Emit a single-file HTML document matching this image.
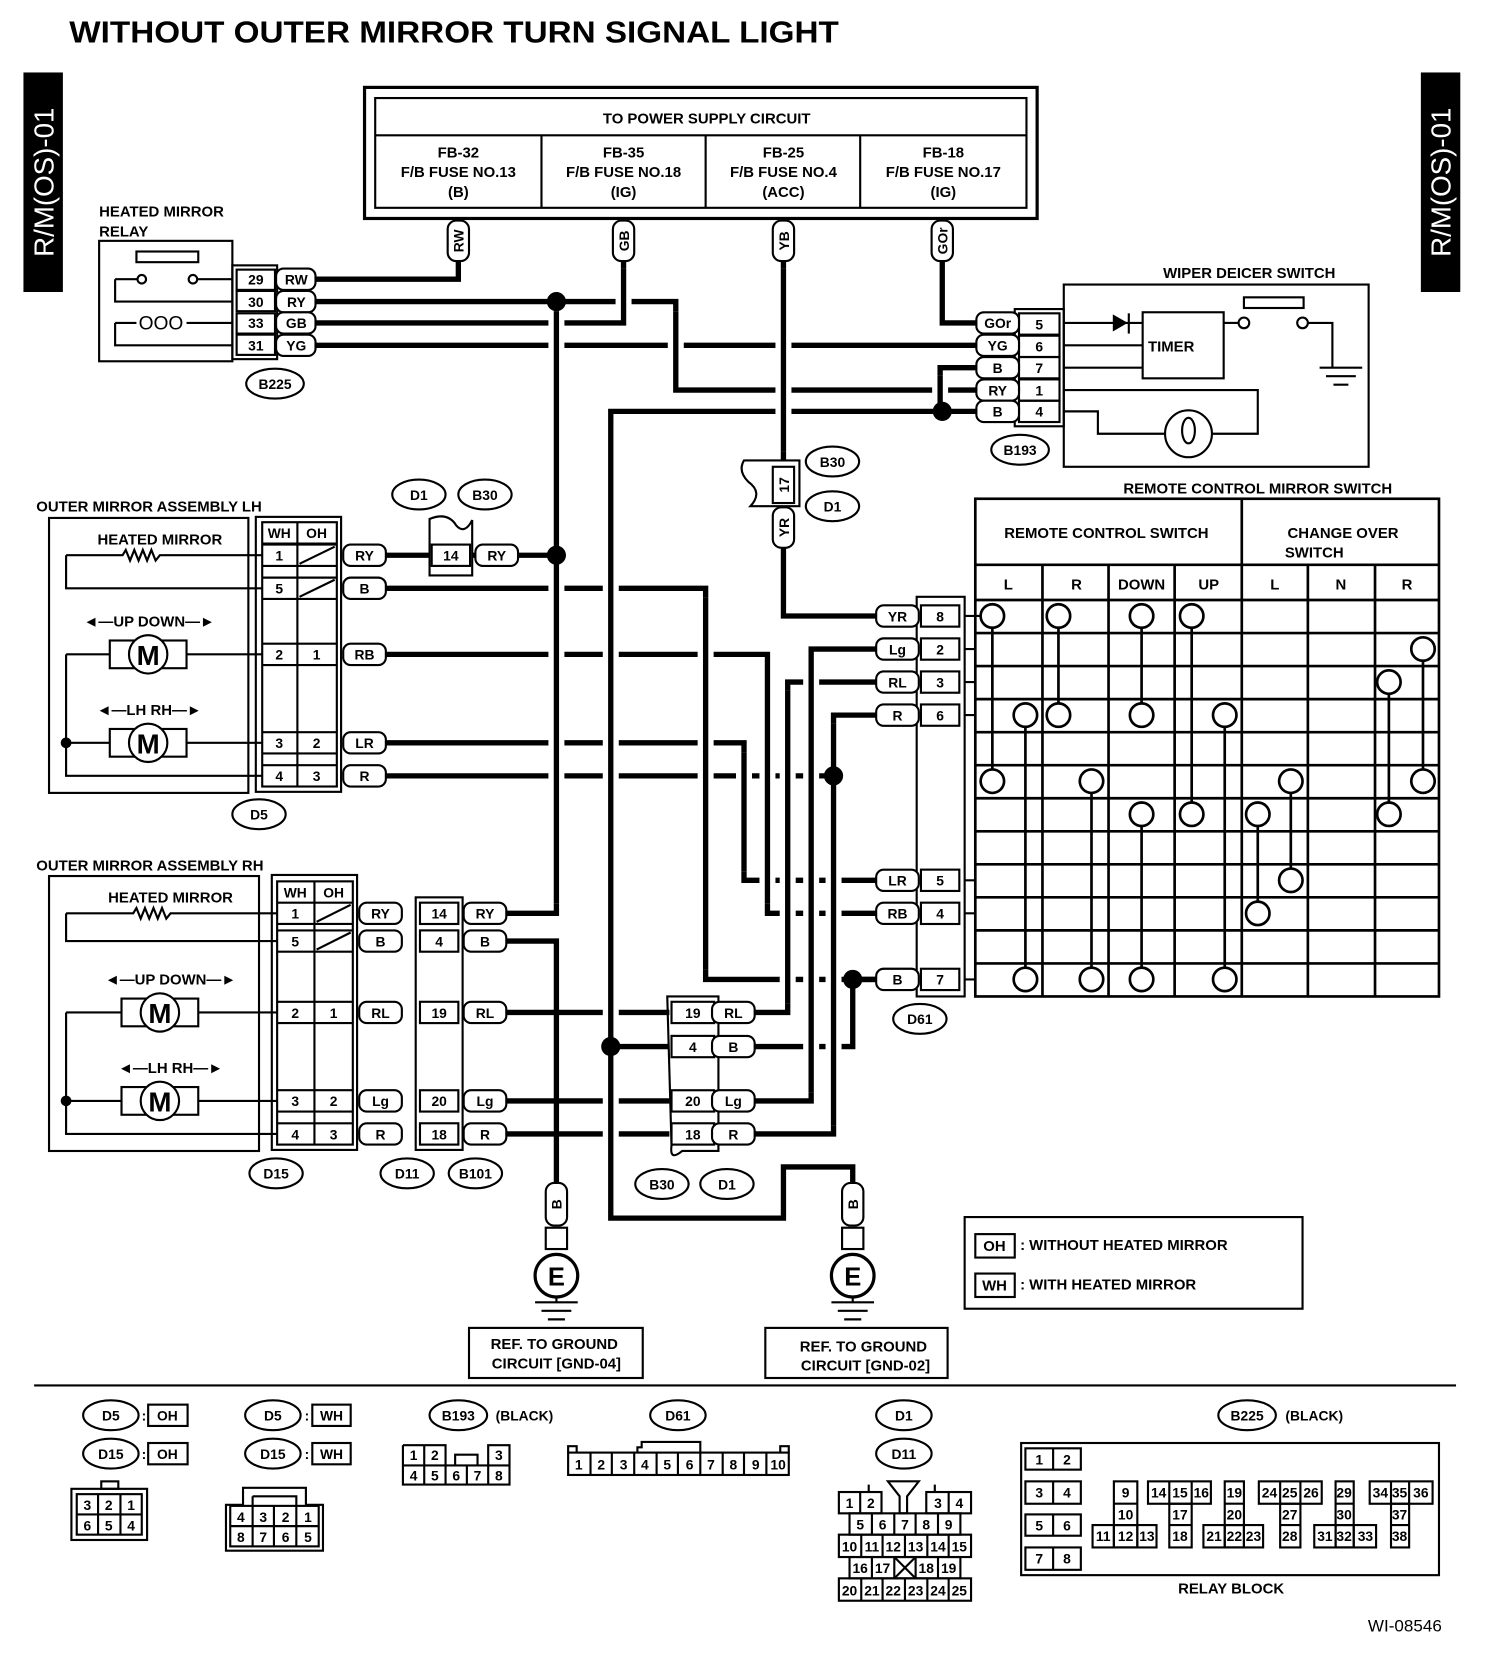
<!DOCTYPE html>
<html><head><meta charset="utf-8"><style>
html,body{margin:0;padding:0;background:#fff}
svg{display:block}
text{font-family:"Liberation Sans",sans-serif;font-weight:bold;fill:#000}
.w{stroke:#000;stroke-width:5;fill:none;stroke-linejoin:miter}
.h{stroke:#fff;stroke-width:15;fill:none}
.t{stroke:#000;stroke-width:2;fill:none}
.c{stroke:#000;stroke-width:2;fill:#fff}
.tg{stroke:#000;stroke-width:2;fill:#fff}
</style></head><body>
<svg width="1504" height="1670" viewBox="0 0 1411 1567" preserveAspectRatio="none" xmlns="http://www.w3.org/2000/svg">
<rect width="1411" height="1567" fill="#fff"/>
<text x="65" y="40" font-size="29" textLength="722" lengthAdjust="spacingAndGlyphs">WITHOUT OUTER MIRROR TURN SIGNAL LIGHT</text>
<rect x="22" y="68" width="37" height="206" fill="#000"/>
<text transform="translate(50,171) rotate(-90)" font-size="26" text-anchor="middle" style="fill:#fff;font-weight:normal">R/M(OS)-01</text>
<rect x="1333" y="68" width="37" height="206" fill="#000"/>
<text transform="translate(1361,171) rotate(-90)" font-size="26" text-anchor="middle" style="fill:#fff;font-weight:normal">R/M(OS)-01</text>

<!-- power box -->
<rect x="342" y="82" width="631" height="123" class="t" style="stroke-width:3"/>
<rect x="352" y="92" width="611" height="103" class="t"/>
<line x1="352" y1="127" x2="963" y2="127" class="t"/>
<line x1="508" y1="127" x2="508" y2="195" class="t"/><line x1="662" y1="127" x2="662" y2="195" class="t"/><line x1="807" y1="127" x2="807" y2="195" class="t"/>
<g font-size="14" text-anchor="middle">
<text x="663" y="116">TO POWER SUPPLY CIRCUIT</text>
<text x="430" y="148">FB-32</text><text x="430" y="166">F/B FUSE NO.13</text><text x="430" y="185">(B)</text>
<text x="585" y="148">FB-35</text><text x="585" y="166">F/B FUSE NO.18</text><text x="585" y="185">(IG)</text>
<text x="735" y="148">FB-25</text><text x="735" y="166">F/B FUSE NO.4</text><text x="735" y="185">(ACC)</text>
<text x="885" y="148">FB-18</text><text x="885" y="166">F/B FUSE NO.17</text><text x="885" y="185">(IG)</text>
</g>

<!-- wires -->
<g class="w">
<path d="M296,262 H430 V245"/>
<path d="M296,283 H634 V366 H918"/>
<path d="M296,303 H585 V245"/>
<path d="M296,324 H918"/>
<path d="M884,245 V303 H918"/>
<path d="M918,345 H882 V386"/>
<path d="M918,386 H573 V1143 H735 V1095 H800 V1110"/>
<path d="M522,283 V857 H475"/>
<path d="M475,883 H522 V1110"/>
<path d="M735,245 V432"/><path d="M735,482 V578 H822"/>
<path d="M362,521 H403"/><path d="M443,521 H522"/>
<path d="M362,552 H662 V919 H822"/>
<path d="M362,614 H720 V857 H822"/>
<path d="M362,697 H698 V826 H822"/>
<path d="M362,728 H782"/>
<path d="M822,671 H782 V1064 H708"/>
<path d="M822,609 H761 V1033 H708"/>
<path d="M822,640 H739 V950 H708"/>
<path d="M822,919 H800 V982 H708"/>
<path d="M475,950 H628"/><path d="M475,1033 H628"/><path d="M475,1064 H628"/><path d="M573,982 H628"/>
</g>
<!-- crossing halos -->
<g class="h">
<path d="M522,292 V848"/><path d="M573,396 V1134"/><path d="M585,252 V296"/><path d="M634,292 V358"/>
<path d="M662,561 V910"/><path d="M698,706 V818"/><path d="M720,623 V848"/><path d="M735,252 V424"/>
<path d="M739,648 V942"/><path d="M761,617 V1025"/><path d="M782,679 V1056"/><path d="M882,352 V379"/>
</g>
<g class="w">
<path d="M522,292 V848"/><path d="M573,396 V1134"/><path d="M585,252 V296"/><path d="M634,292 V358"/>
<path d="M662,561 V910"/><path d="M698,706 V818"/><path d="M720,623 V848"/><path d="M735,252 V424"/>
<path d="M739,648 V942"/><path d="M761,617 V1025"/><path d="M782,679 V1056"/><path d="M882,352 V379"/>
</g>
<g fill="#000">
<circle cx="522" cy="283" r="9"/><circle cx="522" cy="521" r="9"/><circle cx="884" cy="386" r="9"/>
<circle cx="782" cy="728" r="9"/><circle cx="800" cy="919" r="9"/><circle cx="573" cy="982" r="9"/>
</g>

<!-- vertical tags -->
<g font-size="13">
<rect x="420" y="207" width="20" height="38" rx="8" class="tg"/><text transform="translate(435,226) rotate(-90)" text-anchor="middle">RW</text>
<rect x="575" y="207" width="20" height="38" rx="8" class="tg"/><text transform="translate(590,226) rotate(-90)" text-anchor="middle">GB</text>
<rect x="725" y="207" width="20" height="38" rx="8" class="tg"/><text transform="translate(740,226) rotate(-90)" text-anchor="middle">YB</text>
<rect x="874" y="207" width="20" height="38" rx="8" class="tg"/><text transform="translate(889,226) rotate(-90)" text-anchor="middle">GOr</text>
<rect x="725" y="476" width="20" height="38" rx="8" class="tg"/><text transform="translate(740,495) rotate(-90)" text-anchor="middle">YR</text>
<rect x="512" y="1110" width="20" height="40" rx="8" class="tg"/><text transform="translate(527,1130) rotate(-90)" text-anchor="middle">B</text>
<rect x="790" y="1110" width="20" height="40" rx="8" class="tg"/><text transform="translate(805,1130) rotate(-90)" text-anchor="middle">B</text>
</g>

<!-- B225 relay -->
<text x="93" y="203" font-size="14">HEATED MIRROR</text><text x="93" y="222" font-size="14">RELAY</text>
<rect x="93" y="226" width="125" height="113" class="t"/>
<rect x="128" y="236" width="58" height="10" class="t"/>
<circle cx="133" cy="262" r="4" class="c"/><circle cx="181" cy="262" r="4" class="c"/>
<path d="M108,262 H129 M185,262 H218 M108,262 V283 H218" class="t"/>
<path d="M108,303 H128 M175,303 H218 M108,303 V324 H218" class="t"/>
<text x="151" y="309" font-size="18" text-anchor="middle" style="font-weight:normal">OOO</text>
<rect x="218" y="249" width="42" height="88" class="t"/>
<g font-size="13" text-anchor="middle">
<rect x="222" y="253" width="36" height="19" class="t"/><text x="240" y="267">29</text>
<rect x="222" y="273" width="36" height="19" class="t"/><text x="240" y="288">30</text>
<rect x="222" y="294" width="36" height="19" class="t"/><text x="240" y="308">33</text>
<rect x="222" y="314" width="36" height="19" class="t"/><text x="240" y="329">31</text>
<rect x="259" y="252" width="37" height="20" rx="7" class="tg"/><text x="278" y="267">RW</text>
<rect x="259" y="273" width="37" height="20" rx="7" class="tg"/><text x="278" y="288">RY</text>
<rect x="259" y="293" width="37" height="20" rx="7" class="tg"/><text x="278" y="308">GB</text>
<rect x="259" y="314" width="37" height="20" rx="7" class="tg"/><text x="278" y="329">YG</text>
<ellipse cx="258" cy="360" rx="27" ry="14" class="t"/><text x="258" y="365">B225</text>
</g>

<!-- wiper deicer -->
<text x="1172" y="261" font-size="14" text-anchor="middle">WIPER DEICER SWITCH</text>
<rect x="998" y="267" width="286" height="171" class="t"/>
<rect x="952" y="290" width="46" height="110" class="t"/>
<g font-size="13" text-anchor="middle">
<rect x="956" y="294" width="38" height="20" class="t"/><text x="975" y="309">5</text>
<rect x="956" y="315" width="38" height="20" class="t"/><text x="975" y="330">6</text>
<rect x="956" y="335" width="38" height="20" class="t"/><text x="975" y="350">7</text>
<rect x="956" y="356" width="38" height="20" class="t"/><text x="975" y="371">1</text>
<rect x="956" y="376" width="38" height="20" class="t"/><text x="975" y="391">4</text>
<rect x="916" y="293" width="40" height="20" rx="7" class="tg"/><text x="936" y="308">GOr</text>
<rect x="916" y="314" width="40" height="20" rx="7" class="tg"/><text x="936" y="329">YG</text>
<rect x="916" y="335" width="40" height="20" rx="7" class="tg"/><text x="936" y="350">B</text>
<rect x="916" y="356" width="40" height="20" rx="7" class="tg"/><text x="936" y="371">RY</text>
<rect x="916" y="376" width="40" height="20" rx="7" class="tg"/><text x="936" y="391">B</text>
<ellipse cx="957" cy="422" rx="27" ry="14" class="t"/><text x="957" y="427">B193</text>
</g>
<path d="M998,303 H1072 M998,324 H1072 M998,345 H1072" class="t"/>
<path d="M1044,295 L1058,303 L1044,311 Z" fill="#000"/><line x1="1059" y1="294" x2="1059" y2="313" class="t"/>
<rect x="1072" y="293" width="76" height="62" class="t"/>
<text x="1077" y="330" font-size="14">TIMER</text>
<path d="M1148,303 H1162" class="t"/><circle cx="1167" cy="303" r="5" class="c"/><circle cx="1222" cy="303" r="5" class="c"/>
<rect x="1167" y="279" width="56" height="10" class="t"/>
<path d="M1227,303 H1250 V345 M1238,345 H1278 M1244,353 H1272 M1251,361 H1265" class="t"/>
<path d="M998,366 H1180 V407 H1137 M1093,407 H1030 V386 H998" class="t"/>
<circle cx="1115" cy="407" r="22" class="t"/><ellipse cx="1115" cy="404" rx="6" ry="12" class="t"/>

<!-- connector 17 (B30/D1) -->
<path d="M698,432 H750 V475 H704 Q716,462 702,452 Q692,442 698,432 Z" class="t"/>
<rect x="725" y="438" width="20" height="34" class="c"/>
<text transform="translate(740,455) rotate(-90)" font-size="13" text-anchor="middle">17</text>
<g font-size="13" text-anchor="middle">
<ellipse cx="781" cy="433" rx="25" ry="14" class="t"/><text x="781" y="438">B30</text>
<ellipse cx="781" cy="475" rx="25" ry="14" class="t"/><text x="781" y="480">D1</text>
<ellipse cx="393" cy="464" rx="25" ry="14" class="t"/><text x="393" y="469">D1</text>
<ellipse cx="455" cy="464" rx="25" ry="14" class="t"/><text x="455" y="469">B30</text>
</g>
<path d="M403,487 Q420,480 428,493 Q436,502 443,488 V540 H403 Z" class="t"/>
<rect x="405" y="511" width="36" height="20" class="c"/><text x="423" y="526" font-size="13" text-anchor="middle">14</text>
<rect x="446" y="511" width="40" height="20" rx="7" class="tg"/><text x="466" y="526" font-size="13" text-anchor="middle">RY</text>

<!-- LH assembly -->
<text x="34" y="480" font-size="14">OUTER MIRROR ASSEMBLY LH</text>
<rect x="46" y="486" width="187" height="258" class="t"/>
<text x="150" y="511" font-size="14" text-anchor="middle">HEATED MIRROR</text>
<path d="M62,521 V552 H246 M62,521 H115 l3,-5 l4,10 l4,-10 l4,10 l4,-10 l4,10 l4,-10 l4,10 l4,-5 H246" class="t"/>
<text x="140" y="588" font-size="14" text-anchor="middle">◄—UP  DOWN—►</text>
<text x="140" y="671" font-size="14" text-anchor="middle">◄—LH  RH—►</text>
<path d="M62,614 V728 H246 M62,614 H103 M175,614 H246 M62,697 H103 M175,697 H246" class="t"/>
<rect x="103" y="601" width="72" height="26" class="c"/><circle cx="139" cy="614" r="18" class="c"/><text x="139" y="624" font-size="26" text-anchor="middle">M</text>
<rect x="103" y="684" width="72" height="26" class="c"/><circle cx="139" cy="697" r="18" class="c"/><text x="139" y="707" font-size="26" text-anchor="middle">M</text>
<circle cx="62" cy="697" r="5" fill="#000"/>
<rect x="240" y="485" width="80" height="258" class="t"/>
<rect x="246" y="490" width="70" height="248" class="t"/>
<line x1="279" y1="490" x2="279" y2="738" class="t"/>
<path d="M246,510 H316 M246,511 H316 M246,531 H316 M246,542 H316 M246,562 H316 M246,604 H316 M246,624 H316 M246,687 H316 M246,707 H316 M246,718 H316" class="t"/>
<path d="M281,529 L314,513 M281,560 L314,544" class="t"/>
<g font-size="13" text-anchor="middle">
<text x="262" y="505">WH</text><text x="297" y="505">OH</text>
<text x="262" y="526">1</text><text x="262" y="557">5</text><text x="262" y="619">2</text><text x="297" y="619">1</text>
<text x="262" y="702">3</text><text x="297" y="702">2</text><text x="262" y="733">4</text><text x="297" y="733">3</text>
<rect x="322" y="511" width="40" height="20" rx="7" class="tg"/><text x="342" y="526">RY</text>
<rect x="322" y="542" width="40" height="20" rx="7" class="tg"/><text x="342" y="557">B</text>
<rect x="322" y="604" width="40" height="20" rx="7" class="tg"/><text x="342" y="619">RB</text>
<rect x="322" y="687" width="40" height="20" rx="7" class="tg"/><text x="342" y="702">LR</text>
<rect x="322" y="718" width="40" height="20" rx="7" class="tg"/><text x="342" y="733">R</text>
<ellipse cx="243" cy="764" rx="25" ry="14" class="t"/><text x="243" y="769">D5</text>
</g>

<!-- RH assembly -->
<text x="34" y="817" font-size="14">OUTER MIRROR ASSEMBLY RH</text>
<rect x="46" y="822" width="197" height="258" class="t"/>
<text x="160" y="847" font-size="14" text-anchor="middle">HEATED MIRROR</text>
<path d="M62,857 V883 H260 M62,857 H125 l3,-5 l4,10 l4,-10 l4,10 l4,-10 l4,10 l4,-10 l4,10 l4,-5 H260" class="t"/>
<text x="160" y="924" font-size="14" text-anchor="middle">◄—UP  DOWN—►</text>
<text x="160" y="1007" font-size="14" text-anchor="middle">◄—LH  RH—►</text>
<path d="M62,950 V1064 H260 M62,950 H114 M186,950 H260 M62,1033 H114 M186,1033 H260" class="t"/>
<rect x="114" y="937" width="72" height="26" class="c"/><circle cx="150" cy="950" r="18" class="c"/><text x="150" y="960" font-size="26" text-anchor="middle">M</text>
<rect x="114" y="1020" width="72" height="26" class="c"/><circle cx="150" cy="1033" r="18" class="c"/><text x="150" y="1043" font-size="26" text-anchor="middle">M</text>
<circle cx="62" cy="1033" r="5" fill="#000"/>
<rect x="255" y="821" width="80" height="258" class="t"/>
<rect x="260" y="827" width="71" height="247" class="t"/>
<line x1="295" y1="827" x2="295" y2="1074" class="t"/>
<path d="M260,847 H331 M260,867 H331 M260,873 H331 M260,893 H331 M260,940 H331 M260,960 H331 M260,1023 H331 M260,1043 H331 M260,1054 H331" class="t"/>
<path d="M297,865 L329,849 M297,891 L329,875" class="t"/>
<rect x="390" y="842" width="44" height="237" class="t"/>
<g font-size="13" text-anchor="middle">
<text x="277" y="842">WH</text><text x="313" y="842">OH</text>
<text x="277" y="862">1</text><text x="277" y="888">5</text><text x="277" y="955">2</text><text x="313" y="955">1</text>
<text x="277" y="1038">3</text><text x="313" y="1038">2</text><text x="277" y="1069">4</text><text x="313" y="1069">3</text>
<rect x="337" y="847" width="40" height="20" rx="7" class="tg"/><text x="357" y="862">RY</text>
<rect x="337" y="873" width="40" height="20" rx="7" class="tg"/><text x="357" y="888">B</text>
<rect x="337" y="940" width="40" height="20" rx="7" class="tg"/><text x="357" y="955">RL</text>
<rect x="337" y="1023" width="40" height="20" rx="7" class="tg"/><text x="357" y="1038">Lg</text>
<rect x="337" y="1054" width="40" height="20" rx="7" class="tg"/><text x="357" y="1069">R</text>
<rect x="394" y="847" width="36" height="20" class="c"/><text x="412" y="862">14</text>
<rect x="394" y="873" width="36" height="20" class="c"/><text x="412" y="888">4</text>
<rect x="394" y="940" width="36" height="20" class="c"/><text x="412" y="955">19</text>
<rect x="394" y="1023" width="36" height="20" class="c"/><text x="412" y="1038">20</text>
<rect x="394" y="1054" width="36" height="20" class="c"/><text x="412" y="1069">18</text>
<rect x="435" y="847" width="40" height="20" rx="7" class="tg"/><text x="455" y="862">RY</text>
<rect x="435" y="873" width="40" height="20" rx="7" class="tg"/><text x="455" y="888">B</text>
<rect x="435" y="940" width="40" height="20" rx="7" class="tg"/><text x="455" y="955">RL</text>
<rect x="435" y="1023" width="40" height="20" rx="7" class="tg"/><text x="455" y="1038">Lg</text>
<rect x="435" y="1054" width="40" height="20" rx="7" class="tg"/><text x="455" y="1069">R</text>
<ellipse cx="259" cy="1101" rx="25" ry="14" class="t"/><text x="259" y="1106">D15</text>
<ellipse cx="382" cy="1101" rx="25" ry="14" class="t"/><text x="382" y="1106">D11</text>
<ellipse cx="446" cy="1101" rx="25" ry="14" class="t"/><text x="446" y="1106">B101</text>
</g>

<!-- B30/D1 connector lower -->
<path d="M626,935 H674 V1080 H640 Q628,1090 630,1075 Z" class="t"/>
<g font-size="13" text-anchor="middle">
<rect x="630" y="940" width="40" height="20" class="c"/><text x="650" y="955">19</text>
<rect x="630" y="972" width="40" height="20" class="c"/><text x="650" y="987">4</text>
<rect x="630" y="1023" width="40" height="20" class="c"/><text x="650" y="1038">20</text>
<rect x="630" y="1054" width="40" height="20" class="c"/><text x="650" y="1069">18</text>
<rect x="668" y="940" width="40" height="20" rx="7" class="tg"/><text x="688" y="955">RL</text>
<rect x="668" y="972" width="40" height="20" rx="7" class="tg"/><text x="688" y="987">B</text>
<rect x="668" y="1023" width="40" height="20" rx="7" class="tg"/><text x="688" y="1038">Lg</text>
<rect x="668" y="1054" width="40" height="20" rx="7" class="tg"/><text x="688" y="1069">R</text>
<ellipse cx="621" cy="1111" rx="25" ry="14" class="t"/><text x="621" y="1116">B30</text>
<ellipse cx="682" cy="1111" rx="25" ry="14" class="t"/><text x="682" y="1116">D1</text>
</g>

<!-- D61 -->
<rect x="860" y="560" width="45" height="375" class="t"/>
<g font-size="13" text-anchor="middle">
<rect x="864" y="568" width="36" height="20" class="c"/><text x="882" y="583">8</text>
<rect x="864" y="599" width="36" height="20" class="c"/><text x="882" y="614">2</text>
<rect x="864" y="630" width="36" height="20" class="c"/><text x="882" y="645">3</text>
<rect x="864" y="661" width="36" height="20" class="c"/><text x="882" y="676">6</text>
<rect x="864" y="816" width="36" height="20" class="c"/><text x="882" y="831">5</text>
<rect x="864" y="847" width="36" height="20" class="c"/><text x="882" y="862">4</text>
<rect x="864" y="909" width="36" height="20" class="c"/><text x="882" y="924">7</text>
<rect x="822" y="568" width="40" height="20" rx="7" class="tg"/><text x="842" y="583">YR</text>
<rect x="822" y="599" width="40" height="20" rx="7" class="tg"/><text x="842" y="614">Lg</text>
<rect x="822" y="630" width="40" height="20" rx="7" class="tg"/><text x="842" y="645">RL</text>
<rect x="822" y="661" width="40" height="20" rx="7" class="tg"/><text x="842" y="676">R</text>
<rect x="822" y="816" width="40" height="20" rx="7" class="tg"/><text x="842" y="831">LR</text>
<rect x="822" y="847" width="40" height="20" rx="7" class="tg"/><text x="842" y="862">RB</text>
<rect x="822" y="909" width="40" height="20" rx="7" class="tg"/><text x="842" y="924">B</text>
<ellipse cx="863" cy="956" rx="25" ry="14" class="t"/><text x="863" y="961">D61</text>
</g>
<path d="M905,578 H931 M905,609 H915 M905,640 H915 M905,671 H915 M905,826 H915 M905,857 H915 M905,919 H915" class="t"/>

<!-- switch table -->
<text x="1180" y="463" font-size="14" text-anchor="middle">REMOTE CONTROL MIRROR SWITCH</text>
<g class="t" style="stroke-width:2.5">
<rect x="915" y="468" width="435" height="467"/>
<path d="M1165,468 V935 M915,530 H1350 M915,563 H1350 M978,530 V935 M1040,530 V935 M1102,530 V935 M1227,530 V935 M1290,530 V935"/>
<path d="M915,594 H1350 M915,625 H1350 M915,656 H1350 M915,687 H1350 M915,718 H1350 M915,749 H1350 M915,780 H1350 M915,811 H1350 M915,842 H1350 M915,873 H1350 M915,904 H1350"/>
<path d="M931,578 V733 M962,671 V919 M993,578 V671 M1024,733 V919 M1071,578 V671 M1071,764 V919 M1118,578 V764 M1149,671 V919 M1180,764 V857 M1211,733 V826 M1303,640 V764 M1335,609 V733"/>
</g>
<g class="c" style="stroke-width:2.5">
<circle cx="931" cy="578" r="11"/><circle cx="931" cy="733" r="11"/><circle cx="962" cy="671" r="11"/><circle cx="962" cy="919" r="11"/>
<circle cx="993" cy="578" r="11"/><circle cx="993" cy="671" r="11"/><circle cx="1024" cy="733" r="11"/><circle cx="1024" cy="919" r="11"/>
<circle cx="1071" cy="578" r="11"/><circle cx="1071" cy="671" r="11"/><circle cx="1071" cy="764" r="11"/><circle cx="1071" cy="919" r="11"/>
<circle cx="1118" cy="578" r="11"/><circle cx="1118" cy="764" r="11"/><circle cx="1149" cy="671" r="11"/><circle cx="1149" cy="919" r="11"/>
<circle cx="1180" cy="764" r="11"/><circle cx="1180" cy="857" r="11"/><circle cx="1211" cy="733" r="11"/><circle cx="1211" cy="826" r="11"/>
<circle cx="1303" cy="640" r="11"/><circle cx="1303" cy="764" r="11"/><circle cx="1335" cy="609" r="11"/><circle cx="1335" cy="733" r="11"/>
</g>
<g font-size="14" text-anchor="middle">
<text x="1038" y="505">REMOTE CONTROL SWITCH</text>
<text x="1260" y="505">CHANGE OVER</text><text x="1233" y="523">SWITCH</text>
<text x="946" y="553">L</text><text x="1010" y="553">R</text><text x="1071" y="553">DOWN</text><text x="1134" y="553">UP</text>
<text x="1196" y="553">L</text><text x="1258" y="553">N</text><text x="1320" y="553">R</text>
</g>

<!-- grounds -->
<g class="t">
<rect x="512" y="1152" width="20" height="20"/><circle cx="522" cy="1197" r="20" style="stroke-width:3"/>
<path d="M522,1217 V1222 M502,1222 H542 M508,1230 H536 M514,1238 H530"/>
<rect x="790" y="1152" width="20" height="20"/><circle cx="800" cy="1197" r="20" style="stroke-width:3"/>
<path d="M800,1217 V1222 M780,1222 H820 M786,1230 H814 M792,1238 H808"/>
<rect x="440" y="1246" width="163" height="47"/><rect x="718" y="1246" width="171" height="47"/>
<rect x="905" y="1142" width="317" height="86"/>
<rect x="915" y="1158" width="37" height="22"/><rect x="915" y="1195" width="37" height="22"/>
</g>
<g font-size="14">
<text x="522" y="1206" font-size="24" text-anchor="middle">E</text><text x="800" y="1206" font-size="24" text-anchor="middle">E</text>
<text x="520" y="1266" text-anchor="middle">REF. TO GROUND</text><text x="522" y="1284" text-anchor="middle">CIRCUIT [GND-04]</text>
<text x="810" y="1268" text-anchor="middle">REF. TO GROUND</text><text x="812" y="1286" text-anchor="middle">CIRCUIT [GND-02]</text>
<text x="933" y="1174" text-anchor="middle">OH</text><text x="933" y="1211" text-anchor="middle">WH</text>
<text x="957" y="1173">: WITHOUT HEATED MIRROR</text><text x="957" y="1210">: WITH HEATED MIRROR</text>
</g>

<line x1="32" y1="1300" x2="1366" y2="1300" class="t"/>

<!-- bottom connectors -->
<g font-size="13" text-anchor="middle">
<ellipse cx="104" cy="1328" rx="26" ry="14" class="t"/><text x="104" y="1333">D5</text>
<ellipse cx="104" cy="1364" rx="26" ry="14" class="t"/><text x="104" y="1369">D15</text>
<text x="135" y="1333">:</text><text x="135" y="1369">:</text>
<rect x="139" y="1318" width="37" height="20" class="t"/><text x="157" y="1333">OH</text>
<rect x="139" y="1354" width="37" height="20" class="t"/><text x="157" y="1369">OH</text>
<ellipse cx="256" cy="1328" rx="26" ry="14" class="t"/><text x="256" y="1333">D5</text>
<ellipse cx="256" cy="1364" rx="26" ry="14" class="t"/><text x="256" y="1369">D15</text>
<text x="288" y="1333">:</text><text x="288" y="1369">:</text>
<rect x="293" y="1318" width="36" height="20" class="t"/><text x="311" y="1333">WH</text>
<rect x="293" y="1354" width="36" height="20" class="t"/><text x="311" y="1369">WH</text>
<ellipse cx="430" cy="1328" rx="27" ry="14" class="t"/><text x="430" y="1333">B193</text>
<text x="492" y="1333">(BLACK)</text>
<ellipse cx="636" cy="1328" rx="26" ry="14" class="t"/><text x="636" y="1333">D61</text>
<ellipse cx="848" cy="1328" rx="26" ry="14" class="t"/><text x="848" y="1333">D1</text>
<ellipse cx="848" cy="1364" rx="26" ry="14" class="t"/><text x="848" y="1369">D11</text>
<ellipse cx="1170" cy="1328" rx="27" ry="14" class="t"/><text x="1170" y="1333">B225</text>
<text x="1233" y="1333">(BLACK)</text>
<text x="1155" y="1495" font-size="14">RELAY BLOCK</text>
<text x="1318" y="1531" font-size="16" style="font-weight:normal">WI-08546</text>
</g>
<g font-size="13" text-anchor="middle" style="font-weight:normal">
<!-- 6 pin -->
<rect x="67" y="1397" width="71" height="48" class="t"/><rect x="95" y="1390" width="16" height="7" class="t"/>
<rect x="72" y="1402" width="61" height="38" class="t"/><path d="M92,1402 V1440 M113,1402 V1440 M72,1421 H133" class="t"/>
<text x="82" y="1417">3</text><text x="102" y="1417">2</text><text x="123" y="1417">1</text>
<text x="82" y="1436">6</text><text x="102" y="1436">5</text><text x="123" y="1436">4</text>
<!-- 8 pin -->
<path d="M212,1412 H228 V1396 H287 V1412 H303 V1455 H212 Z" class="t"/>
<rect x="216" y="1413" width="83" height="38" class="t"/><path d="M237,1413 V1451 M257,1413 V1451 M278,1413 V1451 M216,1432 H299 M237,1404 H278 V1413 M237,1404 V1413" class="t"/>
<text x="226" y="1428">4</text><text x="247" y="1428">3</text><text x="268" y="1428">2</text><text x="289" y="1428">1</text>
<text x="226" y="1447">8</text><text x="247" y="1447">7</text><text x="268" y="1447">6</text><text x="289" y="1447">5</text>
<!-- B193 -->
<path d="M378,1356 H418 V1375 M378,1356 V1393 H478 V1356 H458 V1375 M378,1375 H478 M398,1356 V1393 M418,1375 V1393 M438,1375 V1393 M458,1375 V1393 M427,1375 V1365 H448 V1375" class="t"/>
<text x="388" y="1370">1</text><text x="408" y="1370">2</text><text x="468" y="1370">3</text>
<text x="388" y="1389">4</text><text x="408" y="1389">5</text><text x="428" y="1389">6</text><text x="448" y="1389">7</text><text x="468" y="1389">8</text>
<!-- D61 -->
<rect x="533" y="1363" width="207" height="21" class="t"/>
<path d="M554,1363 V1384 M574,1363 V1384 M595,1363 V1384 M616,1363 V1384 M636,1363 V1384 M657,1363 V1384 M678,1363 V1384 M698,1363 V1384 M719,1363 V1384 M533,1363 V1357 H541 V1363 M732,1363 V1357 H740 V1363 M598,1363 V1358 H602 V1353 H657 V1363" class="t"/>
<text x="543" y="1379">1</text><text x="564" y="1379">2</text><text x="585" y="1379">3</text><text x="605" y="1379">4</text><text x="626" y="1379">5</text><text x="647" y="1379">6</text><text x="667" y="1379">7</text><text x="688" y="1379">8</text><text x="709" y="1379">9</text><text x="730" y="1379">10</text>
<!-- D1 25-pin -->
<g class="t">
<rect x="787" y="1400" width="40" height="20"/><line x1="807" y1="1400" x2="807" y2="1420"/>
<rect x="869" y="1400" width="42" height="20"/><line x1="890" y1="1400" x2="890" y2="1420"/>
<path d="M833,1390 H862 L851,1404 V1420 H844 V1404 Z M815,1393 V1400 M877,1393 V1400"/>
<rect x="797" y="1420" width="104" height="20"/><path d="M818,1420 V1440 M839,1420 V1440 M859,1420 V1440 M880,1420 V1440"/>
<rect x="787" y="1440" width="124" height="21"/><path d="M808,1440 V1461 M828,1440 V1461 M849,1440 V1461 M870,1440 V1461 M890,1440 V1461"/>
<rect x="797" y="1461" width="104" height="20"/><path d="M818,1461 V1481 M839,1461 V1481 M859,1461 V1481 M880,1461 V1481 M839,1461 L859,1481 M859,1461 L839,1481"/>
<rect x="787" y="1481" width="124" height="21"/><path d="M808,1481 V1502 M828,1481 V1502 M849,1481 V1502 M870,1481 V1502 M890,1481 V1502"/>
</g>
<text x="797" y="1415">1</text><text x="817" y="1415">2</text><text x="880" y="1415">3</text><text x="900" y="1415">4</text>
<text x="807" y="1435">5</text><text x="828" y="1435">6</text><text x="849" y="1435">7</text><text x="869" y="1435">8</text><text x="890" y="1435">9</text>
<text x="797" y="1456">10</text><text x="818" y="1456">11</text><text x="838" y="1456">12</text><text x="859" y="1456">13</text><text x="880" y="1456">14</text><text x="900" y="1456">15</text>
<text x="807" y="1476">16</text><text x="828" y="1476">17</text><text x="869" y="1476">18</text><text x="890" y="1476">19</text>
<text x="797" y="1497">20</text><text x="818" y="1497">21</text><text x="838" y="1497">22</text><text x="859" y="1497">23</text><text x="880" y="1497">24</text><text x="900" y="1497">25</text>
<!-- relay block -->
<rect x="958" y="1354" width="392" height="124" class="t"/>
<g class="t">
<rect x="962" y="1359" width="52" height="20"/><line x1="988" y1="1359" x2="988" y2="1379"/>
<rect x="962" y="1390" width="52" height="21"/><line x1="988" y1="1390" x2="988" y2="1411"/>
<rect x="962" y="1421" width="52" height="20"/><line x1="988" y1="1421" x2="988" y2="1441"/>
<rect x="962" y="1452" width="52" height="21"/><line x1="988" y1="1452" x2="988" y2="1473"/>
<rect x="1045" y="1390" width="22" height="62"/><path d="M1045,1411 H1067 M1045,1431 H1067"/><rect x="1025" y="1431" width="60" height="21"/><path d="M1045,1431 V1452 M1067,1431 V1452"/>
<rect x="1077" y="1390" width="59" height="21"/><path d="M1097,1390 V1411 M1118,1390 V1411"/><rect x="1097" y="1411" width="21" height="41"/><line x1="1097" y1="1431" x2="1118" y2="1431"/>
<rect x="1149" y="1390" width="18" height="62"/><path d="M1149,1411 H1167 M1149,1431 H1167"/><rect x="1129" y="1431" width="56" height="21"/><path d="M1149,1431 V1452 M1167,1431 V1452"/>
<rect x="1181" y="1390" width="59" height="21"/><path d="M1201,1390 V1411 M1220,1390 V1411"/><rect x="1201" y="1411" width="19" height="41"/><line x1="1201" y1="1431" x2="1220" y2="1431"/>
<rect x="1253" y="1390" width="17" height="62"/><path d="M1253,1411 H1270 M1253,1431 H1270"/><rect x="1233" y="1431" width="58" height="21"/><path d="M1253,1431 V1452 M1270,1431 V1452"/>
<rect x="1285" y="1390" width="59" height="21"/><path d="M1305,1390 V1411 M1322,1390 V1411"/><rect x="1305" y="1411" width="17" height="41"/><line x1="1305" y1="1431" x2="1322" y2="1431"/>
</g>
<text x="975" y="1374">1</text><text x="1001" y="1374">2</text><text x="975" y="1405">3</text><text x="1001" y="1405">4</text>
<text x="975" y="1436">5</text><text x="1001" y="1436">6</text><text x="975" y="1467">7</text><text x="1001" y="1467">8</text>
<text x="1056" y="1405">9</text><text x="1056" y="1426">10</text><text x="1035" y="1446">11</text><text x="1056" y="1446">12</text><text x="1076" y="1446">13</text>
<text x="1087" y="1405">14</text><text x="1107" y="1405">15</text><text x="1127" y="1405">16</text><text x="1107" y="1426">17</text><text x="1107" y="1446">18</text>
<text x="1158" y="1405">19</text><text x="1158" y="1426">20</text><text x="1139" y="1446">21</text><text x="1158" y="1446">22</text><text x="1176" y="1446">23</text>
<text x="1191" y="1405">24</text><text x="1210" y="1405">25</text><text x="1230" y="1405">26</text><text x="1210" y="1426">27</text><text x="1210" y="1446">28</text>
<text x="1261" y="1405">29</text><text x="1261" y="1426">30</text><text x="1243" y="1446">31</text><text x="1261" y="1446">32</text><text x="1281" y="1446">33</text>
<text x="1295" y="1405">34</text><text x="1313" y="1405">35</text><text x="1333" y="1405">36</text><text x="1313" y="1426">37</text><text x="1313" y="1446">38</text>
</g>
</svg>
</body></html>
